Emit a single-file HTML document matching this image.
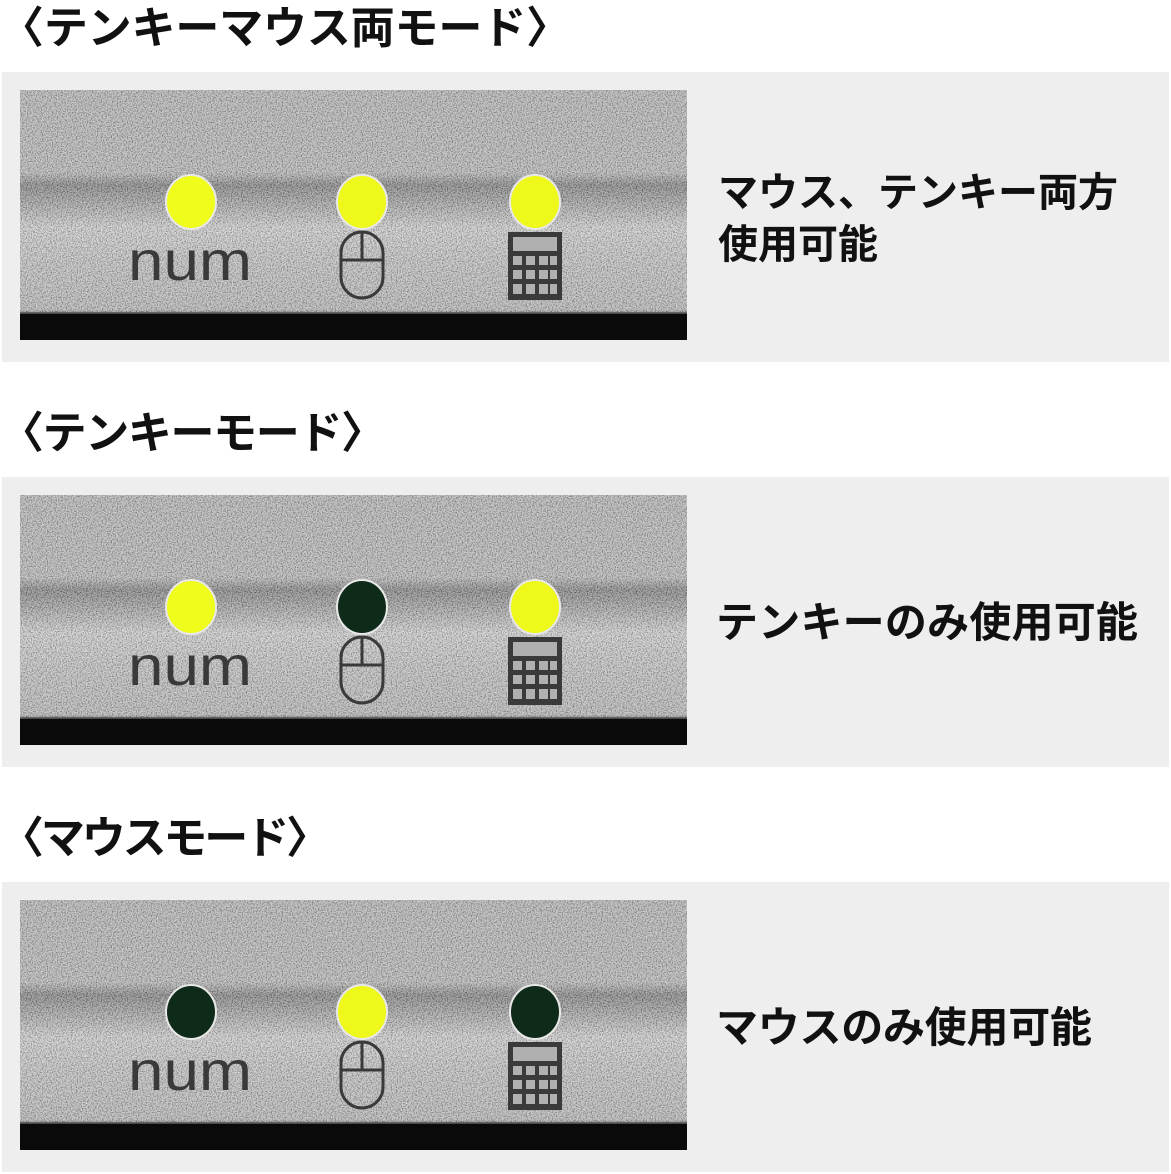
<!DOCTYPE html>
<html><head><meta charset="utf-8"><style>
html,body{margin:0;padding:0;background:#fff;width:1171px;height:1174px;overflow:hidden}
svg{display:block}
text{font-family:"Liberation Sans","Noto Sans CJK JP",sans-serif;font-weight:bold;fill:#111}
</style></head><body>
<svg width="1171" height="1174" viewBox="0 0 1171 1174" xmlns="http://www.w3.org/2000/svg">
<defs>
<filter id="n" x="0" y="0" width="100%" height="100%" color-interpolation-filters="sRGB">
<feTurbulence type="fractalNoise" baseFrequency="0.8" numOctaves="2" seed="3"/>
<feColorMatrix type="matrix" values="2.2 0 0 0 -0.3  2.2 0 0 0 -0.3  2.2 0 0 0 -0.3  0 0 0 0 0.4"/>
</filter>
<linearGradient id="band" x1="0" y1="0" x2="0" y2="1">
<stop offset="0" stop-color="#a4a4a4"/>
<stop offset="0.33" stop-color="#a6a6a6"/>
<stop offset="0.38" stop-color="#6a6a6a"/>
<stop offset="0.44" stop-color="#888"/>
<stop offset="0.55" stop-color="#c0c0c0"/>
<stop offset="0.7" stop-color="#b0b0b0"/>
<stop offset="0.88" stop-color="#a6a6a6"/>
<stop offset="0.9" stop-color="#222"/>
<stop offset="1" stop-color="#080808"/>
</linearGradient>
<g id="photo">
<rect x="20" y="0" width="667" height="250" fill="url(#band)"/>
<rect x="20" y="0" width="667" height="222" fill="#000" filter="url(#n)"/>
<rect x="20" y="224" width="667" height="26" fill="#0a0a0a"/>
<text x="128" y="190" textLength="124" lengthAdjust="spacingAndGlyphs" style="font-weight:normal;font-size:56px;fill:#3a3a3a">num</text>
<g fill="none" stroke="#3a3a3a" stroke-width="3">
<rect x="341" y="142" width="42" height="66" rx="21"/>
<line x1="341" y1="170" x2="383" y2="170"/><line x1="362" y1="142" x2="362" y2="170"/>
</g>
<rect x="508" y="142" width="54" height="68" fill="#3a3a3a"/>
<g fill="#b0b0b0">
<rect x="513" y="147" width="44" height="14"/>
<rect x="513" y="166" width="9" height="9"/><rect x="526" y="166" width="9" height="9"/><rect x="539" y="166" width="9" height="9"/><rect x="550" y="166" width="7" height="9"/>
<rect x="513" y="180" width="9" height="9"/><rect x="526" y="180" width="9" height="9"/><rect x="539" y="180" width="9" height="9"/><rect x="550" y="180" width="7" height="9"/>
<rect x="513" y="194" width="9" height="10"/><rect x="526" y="194" width="9" height="10"/><rect x="539" y="194" width="9" height="10"/><rect x="550" y="194" width="7" height="10"/>
</g>
</g>
</defs>

<text x="0" y="43" font-size="44" textLength="570">〈テンキーマウス両モード〉</text>
<rect x="2" y="72" width="1167" height="290" fill="#eeeeee"/>
<g transform="translate(0,90)"><use href="#photo"/>
<ellipse cx="191" cy="112" rx="25" ry="27" fill="#f0fc1c" stroke="#e8e8e8" stroke-width="2"/>
<ellipse cx="362" cy="112" rx="25" ry="27" fill="#eef81a" stroke="#e8e8e8" stroke-width="2"/>
<ellipse cx="535" cy="112" rx="25" ry="27" fill="#eef81a" stroke="#e8e8e8" stroke-width="2"/>
</g>
<text x="718" y="206" font-size="40" textLength="400">マウス、テンキー両方</text>
<text x="718" y="258" font-size="40">使用可能</text>

<text x="0" y="448" font-size="44" textLength="385">〈テンキーモード〉</text>
<rect x="2" y="477" width="1167" height="290" fill="#eeeeee"/>
<g transform="translate(0,495)"><use href="#photo"/>
<ellipse cx="191" cy="112" rx="25" ry="27" fill="#f0fc1c" stroke="#e8e8e8" stroke-width="2"/>
<ellipse cx="362" cy="112" rx="25" ry="27" fill="#0e2a18" stroke="#e8e8e8" stroke-width="2"/>
<ellipse cx="535" cy="112" rx="25" ry="27" fill="#eef81a" stroke="#e8e8e8" stroke-width="2"/>
</g>
<text x="716" y="637" font-size="42" textLength="422">テンキーのみ使用可能</text>

<text x="0" y="853" font-size="44" textLength="330">〈マウスモード〉</text>
<rect x="2" y="882" width="1167" height="290" fill="#eeeeee"/>
<g transform="translate(0,900)"><use href="#photo"/>
<ellipse cx="191" cy="112" rx="25" ry="27" fill="#0e2a18" stroke="#e8e8e8" stroke-width="2"/>
<ellipse cx="362" cy="112" rx="25" ry="27" fill="#eef81a" stroke="#e8e8e8" stroke-width="2"/>
<ellipse cx="535" cy="112" rx="25" ry="27" fill="#0e2a18" stroke="#e8e8e8" stroke-width="2"/>
</g>
<text x="716" y="1042" font-size="42" textLength="376">マウスのみ使用可能</text>
</svg>
</body></html>
